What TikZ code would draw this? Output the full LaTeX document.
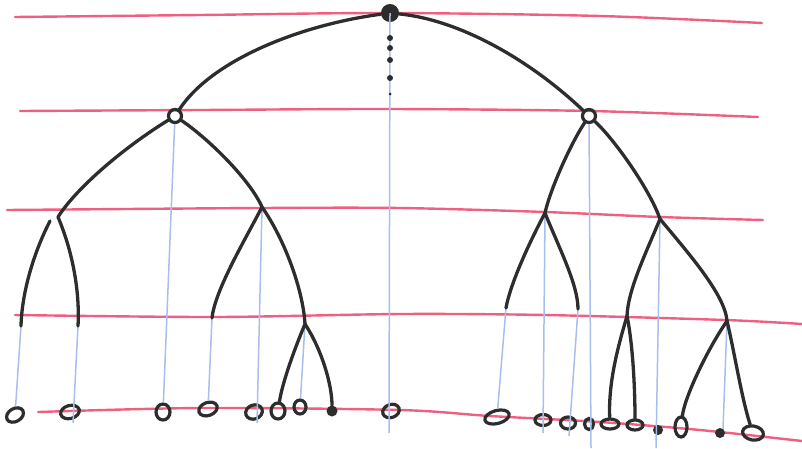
\documentclass[tikz,border=0pt]{standalone}
\usetikzlibrary{shapes.geometric}
\definecolor{rule}{RGB}{238,96,128}
\definecolor{guide}{RGB}{168,190,236}
\definecolor{ink}{RGB}{45,45,45}
\begin{document}
\begin{tikzpicture}[x=1pt,y=-1pt,
  redline/.style={rule,line width=2.4pt,line cap=round},
  blueline/.style={guide,line width=1.5pt},
  edge/.style={ink,line width=3.3pt,line cap=round},
  leaf/.style={ellipse,draw=ink,line width=3.2pt,inner sep=0pt},
  knot/.style={circle,draw=ink,line width=3.2pt,inner sep=0pt,minimum size=13pt},
  bigdot/.style={circle,fill=ink,inner sep=0pt,minimum size=18pt},
  dot/.style={circle,fill=ink,inner sep=0pt,minimum size=#1},
]
\useasboundingbox (0,0) rectangle (802,448);

% ruled lines
\draw[redline] plot[smooth] coordinates {(15,17) (200,15) (390,13) (600,16) (762,23)};
\draw[redline] plot[smooth] coordinates {(20,111) (200,110) (390,109) (590,111) (758,117)};
\draw[redline] plot[smooth] coordinates {(7,210) (260,208) (400,208) (545,212) (660,217) (763,220)};
\draw[redline] plot[smooth] coordinates {(15,315) (215,317) (400,314) (545,315) (725,320) (802,324)};
\draw[redline] plot[smooth] coordinates {(38,412) (200,408) (400,410) (490,416) (600,422) (700,430) (802,441)};

% tree nodes
\node[bigdot] (root) at (390,13) {};
\node[knot] (n1) at (175,116) {};
\node[knot] (n2) at (589,116) {};
\coordinate (a) at (58,217);
\coordinate (b) at (262,207);
\coordinate (c) at (545,213);
\coordinate (d) at (660,219);
\coordinate (p1) at (21,326);
\coordinate (p2) at (78,326);
\coordinate (p3) at (212,318);
\coordinate (e) at (305,324);
\coordinate (q1) at (506,308);
\coordinate (q2) at (578,309);
\coordinate (f) at (627,316);
\coordinate (g) at (727,321);

% leaves
\node[leaf,minimum width=18pt,minimum height=13pt,rotate=30] (l1) at (15,415) {};
\node[leaf,minimum width=19pt,minimum height=13pt,rotate=15] (l2) at (70,412) {};
\node[leaf,minimum width=14pt,minimum height=16pt] (l3) at (163,412) {};
\node[leaf,minimum width=19pt,minimum height=13pt,rotate=20] (l4) at (208,409) {};
\node[leaf,minimum width=17pt,minimum height=14pt,rotate=20] (l5) at (254,412) {};
\node[leaf,minimum width=14pt,minimum height=16pt] (l6) at (278,411) {};
\node[leaf,minimum width=12pt,minimum height=14pt] (l7) at (300,407) {};
\node[dot=11pt] (l8) at (332,411) {};
\node[leaf,minimum width=17pt,minimum height=13pt,rotate=20] (l9) at (391,411) {};
\node[leaf,minimum width=25pt,minimum height=13pt,rotate=15] (r1) at (497,417) {};
\node[leaf,minimum width=16pt,minimum height=11pt] (r2) at (543,420) {};
\node[leaf,minimum width=15pt,minimum height=12pt] (r3) at (568,423) {};
\node[leaf,minimum width=9pt,minimum height=11pt] (r4) at (589,424) {};
\node[leaf,minimum width=18pt,minimum height=10pt] (r5) at (610,424) {};
\node[leaf,minimum width=16pt,minimum height=10pt] (r6) at (635,425) {};
\node[dot=10pt] (r7) at (658,430) {};
\node[leaf,minimum width=12pt,minimum height=20pt] (r8) at (681,427) {};
\node[dot=10pt] (r9) at (720,433) {};
\node[leaf,minimum width=21pt,minimum height=14pt,rotate=-10] (r10) at (753,433) {};

% blue guide lines
\coordinate (z1) at (389,433);
\coordinate (z2) at (257,423);
\coordinate (z3) at (543,433);
\coordinate (z4) at (569,436);
\coordinate (z5) at (591,448);
\coordinate (z6) at (656,448);
\coordinate (z7) at (723,429);
\coordinate (z8) at (73,423);
\draw[blueline] (root.center) -- (z1);
\draw[blueline] (n1) -- (l3);
\draw[blueline] (b) -- (z2);
\draw[blueline] (p3) -- (l4);
\draw[blueline] (e) -- (l7);
\draw[blueline] (p1) -- (l1);
\draw[blueline] (p2) -- (z8);
\draw[blueline] (q1) -- (r1);
\draw[blueline] (c) -- (z3);
\draw[blueline] (q2) -- (z4);
\draw[blueline] (n2) -- (z5);
\draw[blueline] (d) -- (z6);
\draw[blueline] (g) -- (z7);

% dots under the root
\node[dot=6pt] (d1) at (390,38) {};
\node[dot=6pt] (d2) at (390,48) {};
\node[dot=6pt] (d3) at (390,60) {};
\node[dot=6pt] (d4) at (390,78) {};
\node[dot=3pt] (d5) at (390,94) {};

% tree edges
\draw[edge] (root) .. controls (300,25) and (212,60) .. (n1);
\draw[edge] (root) .. controls (460,20) and (530,60) .. (n2);
\draw[edge] (n1) .. controls (120,150) and (75,190) .. (a);
\draw[edge] (a) ++(-8,4) .. controls (35,250) and (22,290) .. (p1);
\draw[edge] (a) .. controls (72,250) and (80,290) .. (p2);
\draw[edge] (n1) .. controls (210,140) and (250,180) .. (b);
\draw[edge] (b) .. controls (245,240) and (215,290) .. (p3);
\draw[edge] (b) .. controls (285,240) and (303,290) .. (e);
\draw[edge] (e) .. controls (292,355) and (282,385) .. (l6);
\draw[edge] (e) .. controls (322,350) and (332,385) .. (l8);
\draw[edge] (n2) .. controls (570,145) and (550,190) .. (c);
\draw[edge] (c) .. controls (528,245) and (510,285) .. (q1);
\draw[edge] (c) .. controls (560,250) and (578,285) .. (q2);
\draw[edge] (n2) .. controls (615,140) and (650,190) .. (d);
\draw[edge] (d) .. controls (645,255) and (628,290) .. (f);
\draw[edge] (d) .. controls (690,255) and (725,295) .. (g);
\draw[edge] (f) .. controls (620,340) and (608,380) .. (r5);
\draw[edge] (f) .. controls (633,345) and (635,390) .. (r6);
\draw[edge] (g) .. controls (710,345) and (685,395) .. (r8);
\draw[edge] (g) .. controls (734,350) and (742,400) .. (r10);
\end{tikzpicture}
\end{document}
